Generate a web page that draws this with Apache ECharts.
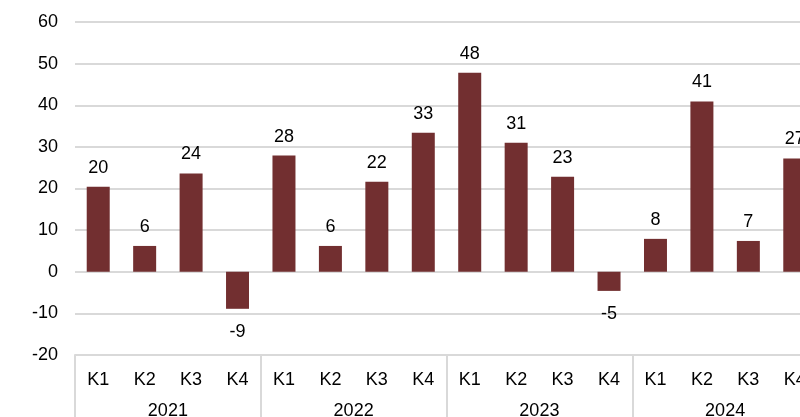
<!DOCTYPE html>
<html>
<head>
<meta charset="utf-8">
<script src="https://cdn.jsdelivr.net/npm/echarts@6/dist/echarts.min.js"></script>
<style>
html,body{margin:0;padding:0;background:#fff;}
#chart{width:800px;height:417px;}
</style>
</head>
<body>
<div id="chart"></div>
<script>
const quarters = ['K1','K2','K3','K4'];
const years = ['2021','2022','2023','2024'];
const values = [20.4, 6.2, 23.6, -8.9, 27.9, 6.2, 21.6, 33.4, 47.8, 31.0, 22.8, -4.6, 7.9, 40.9, 7.4, 27.2];
const yTicks = {min: -20, max: 60, interval: 10};

const categories = [];
years.forEach(y => quarters.forEach(q => categories.push(q)));

const FONT = 'Liberation Sans, Arial, sans-serif';
const chart = echarts.init(document.getElementById('chart'), null, {renderer: 'canvas'});
chart.setOption({
  animation: false,
  grid: {left: 75, top: 22, width: 743, bottom: 62, containLabel: false, outerBoundsMode: 'none'},
  xAxis: [
    {
      type: 'category',
      data: categories,
      position: 'bottom',
      axisLine: {show: true, onZero: false, lineStyle: {color: '#d9d9d9', width: 2}},
      axisTick: {show: true, length: 62, interval: i => i % 4 === 0, lineStyle: {color: '#d9d9d9', width: 2}},
      axisLabel: {interval: 0, color: '#000', fontSize: 18, fontFamily: FONT, margin: 16}
    },
    {
      type: 'category',
      data: years,
      position: 'bottom',
      offset: 31,
      axisLine: {show: false, onZero: false},
      axisTick: {show: false},
      axisLabel: {interval: 0, color: '#000', fontSize: 18, fontFamily: FONT, margin: 16}
    }
  ],
  yAxis: {
    type: 'value',
    min: yTicks.min, max: yTicks.max, interval: yTicks.interval,
    axisLine: {show: false},
    axisTick: {show: false},
    splitLine: {lineStyle: {color: '#d9d9d9', width: 2}},
    axisLabel: {color: '#000', fontSize: 18, fontFamily: FONT, margin: 17}
  },
  series: [{
    type: 'bar',
    xAxisIndex: 0,
    barWidth: 23,
    itemStyle: {color: '#722f30'},
    data: values.map(v => ({
      value: v,
      label: v < 0 ? {position: 'bottom', distance: 14} : {position: 'top', distance: 10}
    })),
    label: {
      show: true,
      color: '#000',
      fontSize: 18,
      fontFamily: FONT,
      formatter: p => String(Math.round(p.value))
    }
  }]
});
</script>
</body>
</html>
